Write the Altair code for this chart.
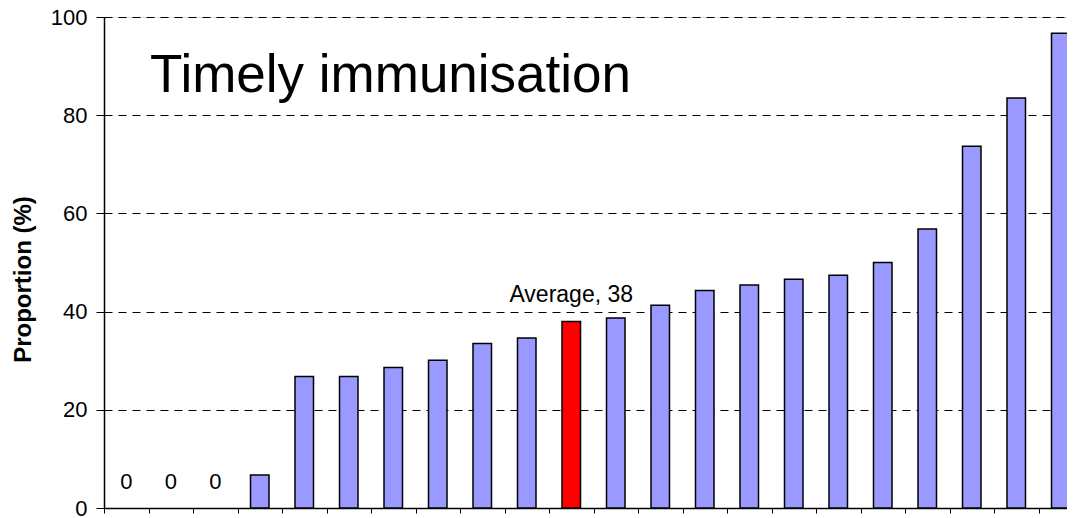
import altair as alt
import pandas as pd

categories = [str(i) for i in range(1, 23)]
values = [0, 0, 0, 6.7, 26.8, 26.8, 28.6, 30.1, 33.5, 34.6, 38.0, 38.7, 41.3,
          44.3, 45.4, 46.6, 47.4, 50.0, 56.8, 73.7, 83.5, 96.7]
is_average = [False] * 10 + [True] + [False] * 11
y_ticks = [0, 20, 40, 60, 80, 100]
chart_title = "Timely immunisation"
y_title = "Proportion (%)"

df = pd.DataFrame({"cat": categories, "value": values, "avg": is_average})
df["label"] = ["Average, %d" % round(v) if a else "" for v, a in zip(values, is_average)]

FONT = "Liberation Sans"

x_enc = alt.X("cat:N", sort=categories,
              scale=alt.Scale(domain=categories, paddingInner=0, paddingOuter=0),
              axis=alt.Axis(labels=False, title=None, domainColor="black",
                            domainWidth=1.5, tickColor="black", tickSize=5,
                            tickBand="extent", grid=False))
y_scale = alt.Scale(domain=[0, 100], nice=False)

bars = alt.Chart(df).transform_filter("datum.value > 0").mark_bar(
    size=18.5, stroke="black", strokeWidth=1.5).encode(
    x=x_enc,
    y=alt.Y("value:Q", scale=y_scale,
            axis=alt.Axis(values=y_ticks, title=y_title, grid=True,
                          gridColor="black", gridDash=[8, 6], gridWidth=1,
                          domainColor="black", domainWidth=1.5,
                          tickColor="black", tickSize=8, labelPadding=9,
                          labelFont=FONT, labelFontSize=22, labelColor="black",
                          titleFont=FONT, titleFontSize=24, titleFontWeight="bold",
                          titleColor="black", titleAngle=-90, titleX=-81,
                          titleY=262, titleAlign="center",
                          titleBaseline="middle")),
    color=alt.Color("avg:N", scale=alt.Scale(domain=[False, True],
                                             range=["#9999FF", "#FF0000"]),
                    legend=None),
)

zeros = alt.Chart(df).transform_filter("datum.value == 0").mark_text(
    font=FONT, fontSize=22, baseline="alphabetic", dy=-19, color="black"
).encode(x=alt.X("cat:N", sort=categories), y=alt.Y("value:Q", scale=y_scale),
         text=alt.Text("value:Q", format="d"))

avg_text = alt.Chart(df).transform_filter("datum.avg").mark_text(
    font=FONT, fontSize=23, baseline="alphabetic", dy=-19, color="black"
).encode(x=alt.X("cat:N", sort=categories), y=alt.Y("value:Q", scale=y_scale),
         text="label:N")

title_text = alt.Chart(pd.DataFrame({"t": [chart_title], "y": [84.7]})).mark_text(
    font=FONT, fontSize=53, align="left", baseline="alphabetic", color="black"
).encode(x=alt.value(46), y=alt.Y("y:Q", scale=y_scale), text="t:N")

chart = alt.layer(bars, zeros, avg_text, title_text).properties(
    width=979, height=491,
    padding={"left": 96, "top": 9, "right": -16, "bottom": 10},
    autosize="none",
).configure_view(stroke=None).configure(background="white")

chart.save("out.html", embed_options={"renderer": "svg", "actions": False})
